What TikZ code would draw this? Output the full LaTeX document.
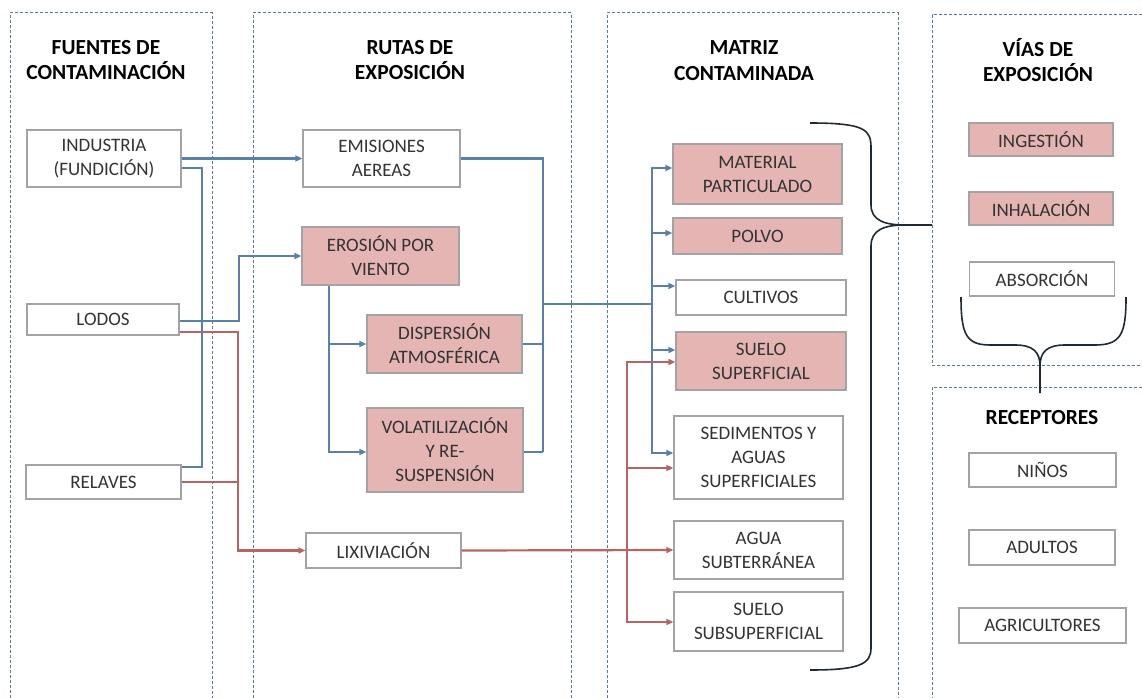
\documentclass[tikz,border=0pt]{standalone}
\usepackage{fontspec}
\setmainfont{Carlito}
\usetikzlibrary{arrows.meta,calc}
\definecolor{lnblue}{HTML}{5B80A8}
\definecolor{lnred}{HTML}{B86464}
\definecolor{pinkc}{HTML}{E5B5B4}
\definecolor{boxc}{HTML}{A3A3A3}
\definecolor{panelc}{HTML}{5577A0}
\definecolor{txtc}{HTML}{333333}
\definecolor{bracec}{HTML}{202A35}
\begin{document}
\begin{tikzpicture}[x=1pt,y=-1pt,
 panel/.style={draw=panelc, line width=1pt, dash pattern=on 3pt off 2pt},
 box/.style={draw=boxc, line width=1.3pt, fill=white, inner sep=0pt, align=center,
   font=\fontsize{19}{24}\selectfont, text=txtc},
 pbox/.style={box, fill=pinkc},
 ttl/.style={align=center, font=\fontsize{21.5}{25.5}\selectfont\bfseries, text=black, inner sep=0pt},
 blueline/.style={draw=lnblue, line width=2.2pt},
 redline/.style={draw=lnred, line width=2.2pt},
 tip/.style={-{Triangle[length=7pt,width=6pt]}},
 brace/.style={draw=bracec, line width=1.6pt}]
\useasboundingbox (0,0) rectangle (1142,698);

% panels
\draw[panel] (10,698) -- (10,13) -- (212,13) -- (212,698);
\draw[panel] (253,698) -- (253,13) -- (571,13) -- (571,698);
\draw[panel] (607,698) -- (607,13) -- (898,13) -- (898,698);
\draw[panel] (1142,15) -- (932,15) -- (932,365) -- (1142,365);
\draw[panel] (1142,387) -- (932,387) -- (932,698);

% titles
\node[ttl] (t1) at (106,60) {FUENTES DE\\CONTAMINACIÓN};
\node[ttl] (t2) at (410,60) {RUTAS DE\\EXPOSICIÓN};
\node[ttl] (t3) at (744,60.5) {MATRIZ\\CONTAMINADA};
\node[ttl] (t4) at (1038,60) {VÍAS DE\\EXPOSICIÓN};
\node[ttl] (t5) at (1042,418) {RECEPTORES};

% sources
\node[box, minimum width=154pt, minimum height=57pt] (ind) at (104,158.5) {INDUSTRIA\\(FUNDICIÓN)};
\node[box, minimum width=152pt, minimum height=31pt] (lod) at (103,319.5) {LODOS};
\node[box, minimum width=155pt, minimum height=34pt] (rel) at (103.5,482) {RELAVES};

% routes
\node[box, minimum width=157pt, minimum height=57pt] (emi) at (381.5,158.5) {EMISIONES\\AEREAS};
\node[pbox, minimum width=157pt, minimum height=58pt] (ero) at (380.5,256) {EROSIÓN POR\\VIENTO};
\node[pbox, minimum width=155pt, minimum height=58pt] (dis) at (444.5,344) {DISPERSIÓN\\ATMOSFÉRICA};
\node[pbox, minimum width=156pt, minimum height=84pt] (vol) at (445,450) {VOLATILIZACIÓN\\Y RE-\\SUSPENSIÓN};
\node[box, minimum width=155pt, minimum height=35pt] (lix) at (383.5,550.5) {LIXIVIACIÓN};

% matrix
\node[pbox, minimum width=169pt, minimum height=60pt] (mat) at (757.5,174) {MATERIAL\\PARTICULADO};
\node[pbox, minimum width=169pt, minimum height=36pt] (pol) at (757.5,236) {POLVO};
\node[box, minimum width=170pt, minimum height=35pt] (cul) at (761,297.5) {CULTIVOS};
\node[pbox, minimum width=170pt, minimum height=58pt] (ssu) at (761,361) {SUELO\\SUPERFICIAL};
\node[box, minimum width=169pt, minimum height=83pt] (sed) at (758.5,457.5) {SEDIMENTOS Y\\AGUAS\\SUPERFICIALES};
\node[box, minimum width=169pt, minimum height=58pt] (agu) at (758.5,550) {AGUA\\SUBTERRÁNEA};
\node[box, minimum width=169pt, minimum height=59pt] (sub) at (758.5,621.5) {SUELO\\SUBSUPERFICIAL};

% exposure
\node[pbox, minimum width=144pt, minimum height=33pt] (ing) at (1041,139.5) {INGESTIÓN};
\node[pbox, minimum width=144pt, minimum height=33pt] (inh) at (1041,208.5) {INHALACIÓN};
\node[box, minimum width=145pt, minimum height=34pt] (abs) at (1042,279) {ABSORCIÓN};

% receptors
\node[box, minimum width=147pt, minimum height=34pt] (nin) at (1042.5,470) {NIÑOS};
\node[box, minimum width=146pt, minimum height=35pt] (adu) at (1042,547.5) {ADULTOS};
\node[box, minimum width=167pt, minimum height=35pt] (agr) at (1042.5,625.5) {AGRICULTORES};

% junction coordinates
\coordinate (rj) at (238,0);
\coordinate (ej) at (329,0);
\coordinate (mj) at (543,0);
\coordinate (mh) at (543,304);
\coordinate (mk) at (652,0);
\coordinate (rk) at (627,0);

% blue connectors
\draw[blueline, tip] (ind.east) -- (emi.west);
\draw[blueline] ([yshift=-9.5pt]ind.east) -- ++(20,0) |- ([yshift=15pt]rel.east);
\draw[blueline, tip] ([yshift=-1.5pt]lod.east) -- ++(59,0) |- (ero.west);
\draw[blueline, tip] (ero.south -| ej) |- (dis.west);
\draw[blueline, tip] (ero.south -| ej) |- ([yshift=-2pt]vol.west);
\draw[blueline] (emi.east) -| ([yshift=-2pt]vol.east -| mj);
\draw[blueline] (dis.east) -- (dis.east -| mj);
\draw[blueline] ([yshift=-2pt]vol.east) -- ([yshift=-2pt]vol.east -| mj);
\draw[blueline] (mh) -- (mh -| mk);
\draw[blueline, tip] (mh -| mk) |- ([yshift=6pt]mat.west);
\draw[blueline, tip] (mh -| mk) |- ([yshift=3pt]pol.west);
\draw[blueline, tip] (mh -| mk) |- ([yshift=11.5pt]cul.west);
\draw[blueline, tip] (mh -| mk) |- ([yshift=11pt]ssu.west);
\draw[blueline, tip] (mh -| mk) |- ([yshift=4.5pt]sed.west);

% red connectors
\draw[redline, tip] ([yshift=-12.5pt]lod.east) -| (rj |- lix.west) -- (lix.west);
\draw[redline] (rel.east) -- (rel.east -| rj);
\draw[redline, tip] (lix.east) -- (agu.west);
\draw[redline, tip] (rk |- agu.west) |- ([yshift=-1pt]ssu.west);
\draw[redline, tip] (rk |- agu.west) |- ([yshift=-10.5pt]sed.west);
\draw[redline, tip] (rk |- agu.west) |- ([yshift=-0.5pt]sub.west);

% braces
\draw[brace] (810,123) .. controls (866,123) and (871,130) .. (871,148) -- (871,205)
  .. controls (871,220) and (884,225) .. (905,225) -- (932,225);
\draw[brace] (905,225) .. controls (884,225) and (871,230) .. (871,246) -- (871,648)
  .. controls (871,664) and (860,670) .. (810,670);
\draw[brace] (961,297) .. controls (961,334) and (966,345) .. (990,345) -- (1015,345)
  .. controls (1033,345) and (1040,352) .. (1040,366) -- (1040,393);
\draw[brace] (1126,297) .. controls (1126,334) and (1121,345) .. (1095,345) -- (1065,345)
  .. controls (1047,345) and (1040,352) .. (1040,366);
\end{tikzpicture}
\end{document}
